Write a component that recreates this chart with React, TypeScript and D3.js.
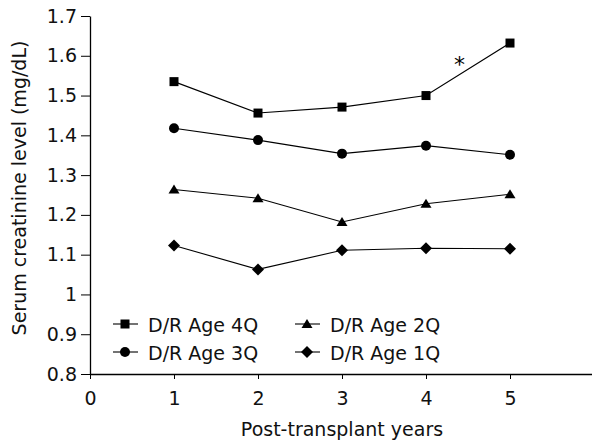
import React, { useEffect, useRef } from "react";
import * as d3 from "d3";

// values
const years = [1, 2, 3, 4, 5];
const age4Q = [1.535, 1.456, 1.471, 1.5, 1.632];
const age3Q = [1.418, 1.388, 1.354, 1.374, 1.351];
const age2Q = [1.264, 1.242, 1.182, 1.228, 1.252];
const age1Q = [1.123, 1.063, 1.111, 1.116, 1.115];
const seriesNames = ["D/R Age 4Q", "D/R Age 3Q", "D/R Age 2Q", "D/R Age 1Q"];
const seriesSymbols = ["square", "circle", "triangle", "diamond"];
const xTicks = [0, 1, 2, 3, 4, 5];
const yTicks = [0.8, 0.9, 1, 1.1, 1.2, 1.3, 1.4, 1.5, 1.6, 1.7];
const starYear = 4.4;
const starValue = 1.59;

const FONT = "'DejaVu Sans', sans-serif";

function drawSymbol(g, kind, cx, cy) {
  if (kind === "square") {
    g.append("rect").attr("x", cx - 4.5).attr("y", cy - 4.5).attr("width", 9).attr("height", 9).attr("fill", "#000");
  } else if (kind === "circle") {
    g.append("circle").attr("cx", cx).attr("cy", cy).attr("r", 5).attr("fill", "#000");
  } else if (kind === "triangle") {
    g.append("path")
      .attr("d", `M${cx},${cy - 5}L${cx + 5.5},${cy + 4}L${cx - 5.5},${cy + 4}Z`)
      .attr("fill", "#000");
  } else {
    g.append("path")
      .attr("d", `M${cx},${cy - 6}L${cx + 6},${cy}L${cx},${cy + 6}L${cx - 6},${cy}Z`)
      .attr("fill", "#000");
  }
}

function CreatinineChart() {
  const svgRef = useRef(null);
  useEffect(() => {
    const svg = d3.select(svgRef.current);
    svg.selectAll("*").remove();

    const x = d3.scaleLinear().domain([0, 6]).range([90, 594]);
    const y = d3.scaleLinear().domain([0.8, 1.7]).range([374, 16]);

    // axes
    const xAxis = svg.append("g")
      .attr("transform", `translate(0,${y(0.8)})`)
      .call(d3.axisBottom(x).tickValues(xTicks).tickSize(5).tickSizeOuter(0).tickFormat(d3.format("d")));
    xAxis.select(".domain").attr("stroke", "#000").attr("stroke-width", 1.3);
    xAxis.selectAll(".tick line").attr("stroke", "#000");
    xAxis.selectAll(".tick text")
      .attr("y", 18)
      .attr("font-family", FONT)
      .attr("font-size", 19)
      .attr("fill", "#111");

    const yAxis = svg.append("g")
      .attr("transform", `translate(${x(0)},0)`)
      .call(d3.axisLeft(y).tickValues(yTicks).tickSize(9).tickSizeOuter(0).tickFormat(d => String(+(+d).toFixed(1))));
    yAxis.select(".domain").attr("stroke", "#000").attr("stroke-width", 1.3);
    yAxis.selectAll(".tick line").attr("stroke", "#000");
    yAxis.selectAll(".tick text")
      .attr("x", -13)
      .attr("font-family", FONT)
      .attr("font-size", 19)
      .attr("fill", "#111");

    // axis titles
    svg.append("text")
      .attr("transform", `translate(26,188) rotate(-90)`)
      .attr("text-anchor", "middle")
      .attr("font-family", FONT)
      .attr("font-size", 19)
      .attr("fill", "#111")
      .text("Serum creatinine level (mg/dL)");
    svg.append("text")
      .attr("x", 342)
      .attr("y", 436)
      .attr("text-anchor", "middle")
      .attr("font-family", FONT)
      .attr("font-size", 19)
      .attr("fill", "#111")
      .text("Post-transplant years");

    // series
    const allSeries = [age4Q, age3Q, age2Q, age1Q];
    const line = d3.line().x(d => x(d[0])).y(d => y(d[1]));
    allSeries.forEach((vals, i) => {
      const pts = years.map((yr, j) => [yr, vals[j]]);
      svg.append("path")
        .attr("d", line(pts))
        .attr("fill", "none")
        .attr("stroke", "#000")
        .attr("stroke-width", 1.1);
      const g = svg.append("g");
      pts.forEach(p => drawSymbol(g, seriesSymbols[i], x(p[0]), y(p[1])));
    });

    // significance marker
    svg.append("text")
      .attr("x", x(starYear))
      .attr("y", y(starValue) + 12)
      .attr("text-anchor", "middle")
      .attr("font-family", FONT)
      .attr("font-size", 22)
      .attr("fill", "#000")
      .text("*");

    // legend: two columns, 4Q/3Q left, 2Q/1Q right
    const legendPos = [
      { lx: 113, ly: 324 },
      { lx: 113, ly: 352 },
      { lx: 295, ly: 324 },
      { lx: 295, ly: 352 },
    ];
    seriesNames.forEach((name, i) => {
      const { lx, ly } = legendPos[i];
      const g = svg.append("g");
      g.append("line")
        .attr("x1", lx).attr("x2", lx + 25)
        .attr("y1", ly).attr("y2", ly)
        .attr("stroke", "#000").attr("stroke-width", 1.1);
      drawSymbol(g, seriesSymbols[i], lx + 12, ly);
      g.append("text")
        .attr("x", lx + 35)
        .attr("y", ly + 8)
        .attr("font-family", FONT)
        .attr("font-size", 19)
        .attr("fill", "#111")
        .text(name);
    });
  }, []);

  return (
    <svg
      ref={svgRef}
      width={592}
      height={444}
      style={{ position: "absolute", left: 0, top: 0, background: "#fff" }}
    ></svg>
  );
}

export default function App() {
  return <CreatinineChart />;
}
